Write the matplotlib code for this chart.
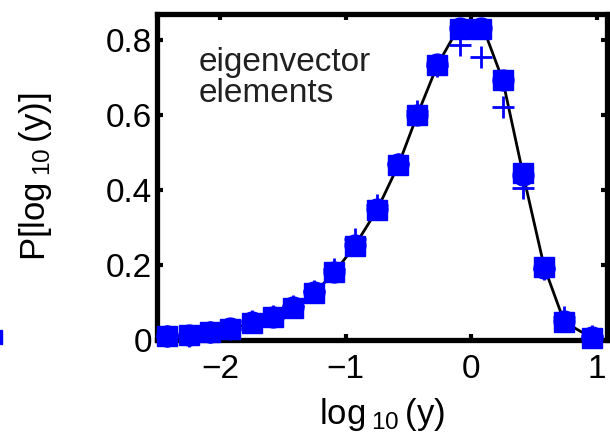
import matplotlib
matplotlib.use("Agg")
import matplotlib.pyplot as plt
from matplotlib.patches import Rectangle

plt.rcParams['font.family'] = ['Liberation Sans', 'DejaVu Sans']
plt.rcParams['mathtext.fontset'] = 'custom'
plt.rcParams['mathtext.rm'] = 'Liberation Sans'
plt.rcParams['mathtext.default'] = 'regular'

# log10 of eigenvector elements (bin centres)
log_y = [-2.42, -2.25, -2.08, -1.92, -1.75, -1.58, -1.42, -1.25, -1.09, -0.93, -0.75,
         -0.58, -0.43, -0.27, -0.09, 0.08, 0.25, 0.41, 0.58, 0.74, 0.96]

# histogram, square markers
p_square = [0.010, 0.012, 0.020, 0.030, 0.045, 0.060, 0.085, 0.125, 0.180, 0.250, 0.347,
            0.467, 0.600, 0.733, 0.830, 0.830, 0.693, 0.445, 0.195, 0.048, 0.005]
# histogram, circle markers
p_circle = [0.010, 0.013, 0.020, 0.032, 0.047, 0.062, 0.087, 0.127, 0.182, 0.253, 0.350,
            0.470, 0.600, 0.735, 0.832, 0.832, 0.693, 0.440, 0.193, 0.050, 0.008]
# histogram, plus markers
p_plus = [0.010, 0.010, 0.020, 0.030, 0.050, 0.065, 0.090, 0.130, 0.190, 0.270, 0.360,
          0.470, 0.610, 0.730, 0.787, 0.755, 0.620, 0.405, 0.190, 0.060, 0.010]
# fitted curve
p_fit = [0.010, 0.012, 0.020, 0.030, 0.045, 0.060, 0.085, 0.125, 0.180, 0.250, 0.347,
         0.467, 0.600, 0.733, 0.840, 0.845, 0.693, 0.445, 0.195, 0.048, 0.005]

fig = plt.figure(figsize=(6.1, 4.38), dpi=100)
ax = fig.add_axes([0.258, 0.224, 0.737, 0.744])

ax.plot(log_y, p_fit, color='black', lw=2, zorder=2)
ax.plot(log_y, p_circle, 'o', color='blue', ms=15, mec='blue', zorder=3, clip_on=False)
ax.plot(log_y, p_square, 's', color='blue', ms=14, mec='blue', zorder=4, clip_on=False)
ax.plot(log_y, p_plus, '+', color='blue', ms=16, mew=2, zorder=5, clip_on=False)

ax.set_xlim(-2.5, 1.08)
ax.set_ylim(0, 0.869)
ax.set_xticks([-2, -1, 0, 1])
ax.set_xticklabels(['\u22122', '\u22121', '0', '1'])
ax.set_yticks([0, 0.2, 0.4, 0.6, 0.8])
ax.set_yticklabels(['0', '0.2', '0.4', '0.6', '0.8'])

for s in ax.spines.values():
    s.set_linewidth(3.8)
ax.tick_params(direction='in', length=4, width=3, top=True, right=True, labelsize=24)
ax.tick_params(axis='x', pad=10)
ax.tick_params(axis='y', pad=4)

ax.set_xlabel(r'log$\,{}_{10}\,$(y)', fontsize=25, labelpad=8)
ax.set_ylabel(r'P[log$\,{}_{10}\,$(y)]', fontsize=25, labelpad=37)

ax.text(0.091, 0.9, 'eigenvector\nelements', transform=ax.transAxes, fontsize=24,
        va='top', ha='left', color='#202020', linespacing=1.0)

# edge of the neighbouring panel's marker
fig.patches.append(Rectangle((0, 0.215), 0.004, 0.032, transform=fig.transFigure,
                             color='blue'))

fig.savefig('out.png', dpi=100)
